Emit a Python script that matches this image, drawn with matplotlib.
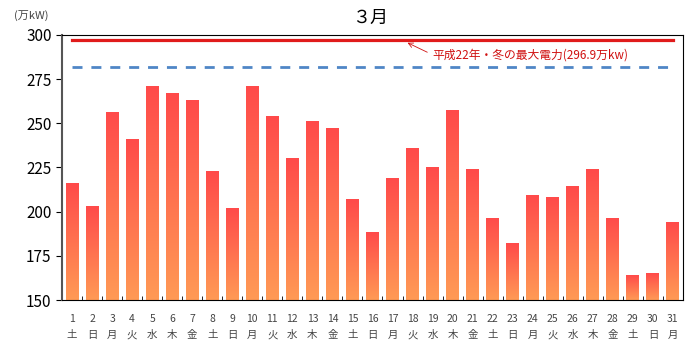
import matplotlib
matplotlib.use("Agg")
import matplotlib.pyplot as plt
import numpy as np
from matplotlib.colors import LinearSegmentedColormap

plt.rcParams['font.family'] = ['Noto Sans CJK JP', 'DejaVu Sans']

days = list(range(1, 32))
weekdays = ['土', '日', '月', '火', '水', '木', '金',
            '土', '日', '月', '火', '水', '木', '金',
            '土', '日', '月', '火', '水', '木', '金',
            '土', '日', '月', '火', '水', '木', '金',
            '土', '日', '月']
demand = [216, 203, 256, 241, 271, 267, 263, 223, 202, 271, 254, 230, 251, 247,
          207, 188, 219, 236, 225, 257, 224, 196, 182, 209, 208, 214, 224, 196,
          164, 165, 194]
record_max = 296.9
forecast_line = 282

cmap = LinearSegmentedColormap.from_list('bar', ['#ff9a55', '#ff4a4a'])
grad = np.linspace(0, 1, 256).reshape(-1, 1)

fig = plt.figure(figsize=(7, 3.52), dpi=100)
ax = fig.add_axes([0.0886, 0.1477, 0.887, 0.7529])

x = np.arange(len(days))
width = 0.64
bars = ax.bar(x, np.array(demand) - 150, width, bottom=150, color='none')
for xi, val in zip(x, demand):
    ax.imshow(grad, extent=[xi - width / 2, xi + width / 2, 150, val],
              origin='lower', cmap=cmap, aspect='auto', zorder=2)

ax.plot([0, 30], [record_max, record_max], color='#e01b1b', lw=2.3, zorder=3)
ax.plot([0, 29.8], [forecast_line, forecast_line], color='#4f86c6', lw=2,
        dashes=(3.6, 3.2), zorder=3)

ax.annotate('平成22年・冬の最大電力(296.9万kw)', xy=(16.75, 295.6),
            xytext=(18.0, 288.8), color='#d01010', fontsize=8.5,
            ha='left', va='center',
            arrowprops=dict(arrowstyle='->', color='#d01010', lw=0.6,
                            relpos=(0, 0.5), shrinkA=2, shrinkB=0))

ax.set_xlim(-0.5, 30.5)
ax.set_ylim(150, 300)
ax.set_yticks([150, 175, 200, 225, 250, 275, 300])
ax.tick_params(axis='y', labelsize=11, length=4, direction='out')
ax.set_xticks(x)
ax.set_xticklabels([f'{d}\n{w}' for d, w in zip(days, weekdays)],
                   fontsize=7.5, color='#444444', linespacing=1.8)
ax.tick_params(axis='x', length=0, pad=10)
ax.set_xticks(np.arange(-0.5, 31, 1), minor=True)
ax.tick_params(axis='x', which='minor', length=3, direction='in')

for s in ['top', 'right', 'bottom']:
    ax.spines[s].set_linewidth(0.8)
ax.spines['left'].set_linewidth(1.5)
ax.spines['left'].set_color('#555555')

fig.text(0.528, 0.948, '３月', ha='center', va='center', fontsize=13)
fig.text(0.045, 0.955, '(万kW)', ha='center', va='center', fontsize=8, color='#444444')

fig.savefig('out.png', dpi=100)
